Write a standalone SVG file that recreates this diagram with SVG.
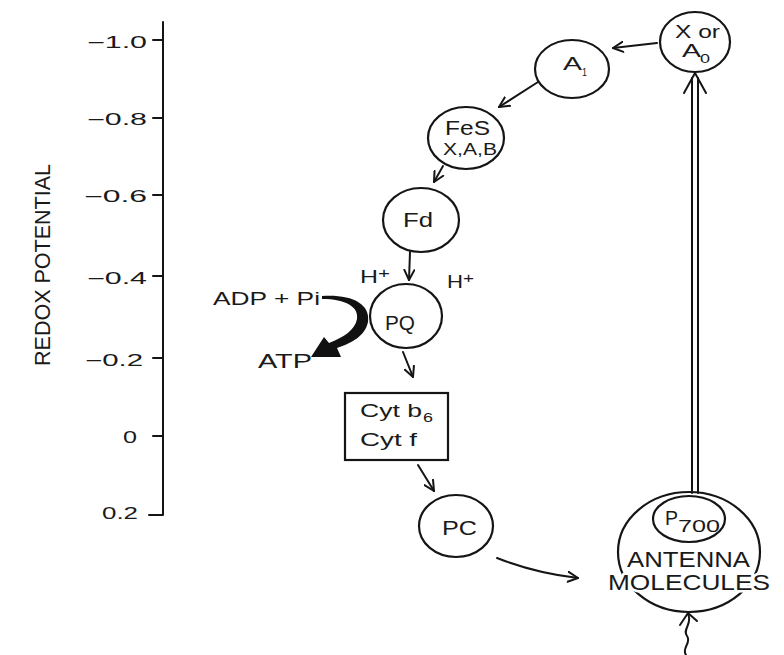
<svg xmlns="http://www.w3.org/2000/svg" width="784" height="655" viewBox="0 0 784 655">
<style>
  .ln{fill:none;stroke:#151515;stroke-width:2;stroke-linecap:round;stroke-linejoin:round}
  .nd{fill:none;stroke:#151515;stroke-width:2.2}
  text{font-family:"Liberation Sans",Arial,sans-serif;fill:#1a1a1a}
  .t{font-size:16px}
  .n{font-size:20px}
  .halo{stroke:#fff;stroke-width:5;paint-order:stroke;stroke-linejoin:round}
</style>
<defs>
  <marker id="ah" viewBox="0 0 12 12" refX="11" refY="6" markerWidth="12" markerHeight="12" markerUnits="userSpaceOnUse" orient="auto">
    <path d="M1,1 L11,6 L1,11" fill="none" stroke="#151515" stroke-width="2" stroke-linecap="round" stroke-linejoin="round"/>
  </marker>
</defs>
<rect width="784" height="655" fill="#fff"/>

<g id="axis">
  <path class="ln" d="M163,22 L163,515 L149,515"/>
  <path class="ln" d="M153,40 H163 M153,118 H163 M153,195 H163 M153,276 H163 M153,358 H163 M153,436 H163"/>
  <text class="t" x="87" y="48" textLength="60" lengthAdjust="spacingAndGlyphs">−1.0</text>
  <text class="t" x="87" y="125" textLength="60" lengthAdjust="spacingAndGlyphs">−0.8</text>
  <text class="t" x="84" y="202" textLength="63" lengthAdjust="spacingAndGlyphs">−0.6</text>
  <text class="t" x="87" y="284" textLength="60" lengthAdjust="spacingAndGlyphs">−0.4</text>
  <text class="t" x="85" y="366" textLength="58" lengthAdjust="spacingAndGlyphs">−0.2</text>
  <text class="t" x="123" y="443" textLength="14" lengthAdjust="spacingAndGlyphs">0</text>
  <text class="t" x="102" y="519" textLength="36" lengthAdjust="spacingAndGlyphs">0.2</text>
  <text transform="translate(50,366) rotate(-90)" x="0" y="0" font-size="22" textLength="202" lengthAdjust="spacingAndGlyphs">REDOX POTENTIAL</text>
</g>

<g id="nodeX">
  <ellipse class="nd" cx="695" cy="42" rx="35" ry="30"/>
  <text x="675" y="38" font-size="18" textLength="45" lengthAdjust="spacingAndGlyphs">X or</text>
  <text x="682" y="57" font-size="19" textLength="19" lengthAdjust="spacingAndGlyphs">A</text>
  <text x="700" y="63" font-size="13" textLength="10" lengthAdjust="spacingAndGlyphs">0</text>
</g>

<g id="nodeA1">
  <ellipse class="nd" cx="572" cy="69" rx="37" ry="29"/>
  <text x="563" y="70" font-size="18" textLength="19" lengthAdjust="spacingAndGlyphs">A</text>
  <text x="582" y="76" font-size="11" textLength="5" lengthAdjust="spacingAndGlyphs">1</text>
</g>

<g id="nodeFeS">
  <ellipse class="nd" cx="466" cy="138" rx="38" ry="31"/>
  <text class="n" x="445" y="135" textLength="45" lengthAdjust="spacingAndGlyphs">FeS</text>
  <text x="443" y="155" font-size="16" textLength="54" lengthAdjust="spacingAndGlyphs">X,A,B</text>
</g>

<g id="nodeFd">
  <ellipse class="nd" cx="421" cy="220" rx="38" ry="32"/>
  <text class="n" x="403" y="227" textLength="30" lengthAdjust="spacingAndGlyphs">Fd</text>
</g>

<g id="labelsH">
  <text x="360" y="283" font-size="18" textLength="18" lengthAdjust="spacingAndGlyphs">H</text>
  <text x="378" y="278" font-size="15" textLength="12" lengthAdjust="spacingAndGlyphs">+</text>
  <text x="447" y="288" font-size="18" textLength="16" lengthAdjust="spacingAndGlyphs">H</text>
  <text x="463" y="283" font-size="15" textLength="11" lengthAdjust="spacingAndGlyphs">+</text>
</g>

<g id="nodePQ">
  <ellipse class="nd" cx="406" cy="316" rx="36" ry="32"/>
  <text class="n" x="385" y="330" textLength="30" lengthAdjust="spacingAndGlyphs">PQ</text>
</g>

<g id="atp">
  <text x="213" y="305" font-size="18" textLength="107" lengthAdjust="spacingAndGlyphs">ADP + Pi</text>
  <text class="n" x="258" y="368" textLength="54" lengthAdjust="spacingAndGlyphs">ATP</text>
  <path fill="#111" d="M322,296 C350,294 371,303 368,322 C365,336 352,343 337,348 L341,357 L311,357 L324,337 L329,343 C344,337 355,330 357,319 C359,307 346,299 322,299 Z"/>
</g>

<g id="nodeCyt">
  <rect class="nd" x="345" y="393" width="103" height="67"/>
  <text x="360" y="417" font-size="19" textLength="62" lengthAdjust="spacingAndGlyphs">Cyt b</text>
  <text x="423" y="422" font-size="13" textLength="10" lengthAdjust="spacingAndGlyphs">6</text>
  <text x="360" y="446" font-size="19" textLength="57" lengthAdjust="spacingAndGlyphs">Cyt f</text>
</g>

<g id="nodePC">
  <ellipse class="nd" cx="456" cy="526" rx="37" ry="31"/>
  <text x="442" y="535" font-size="21" textLength="35" lengthAdjust="spacingAndGlyphs">PC</text>
</g>

<g id="nodeAntenna">
  <ellipse class="nd" cx="689" cy="552" rx="71" ry="60"/>
  <ellipse class="nd" cx="689" cy="519" rx="36" ry="23"/>
  <text x="665" y="525" font-size="20" textLength="13" lengthAdjust="spacingAndGlyphs">P</text>
  <text x="678" y="532" font-size="16" textLength="42" lengthAdjust="spacingAndGlyphs">700</text>
  <text class="halo" x="627" y="567" font-size="22" textLength="123" lengthAdjust="spacingAndGlyphs">ANTENNA</text>
  <text class="halo" x="608" y="590" font-size="22" textLength="162" lengthAdjust="spacingAndGlyphs">MOLECULES</text>
</g>

<g id="connectors">
  <path class="ln" marker-end="url(#ah)" d="M657,43 L613,48"/>
  <path class="ln" marker-end="url(#ah)" d="M538,82 L499,107"/>
  <path class="ln" marker-end="url(#ah)" d="M443,166 L434,182"/>
  <path class="ln" marker-end="url(#ah)" d="M410,252 L409,280"/>
  <path class="ln" marker-end="url(#ah)" d="M403,352 L413,377"/>
  <path class="ln" marker-end="url(#ah)" d="M418,465 L434,491"/>
  <path class="ln" marker-end="url(#ah)" d="M497,558 Q535,573 578,578"/>
  <path class="ln" stroke-width="2.4" d="M686,655 C681,648 692,643 687,636 C682,629 693,624 688,614"/>
  <path class="ln" stroke-width="2.4" d="M680,625 L688,613 L697,621"/>
  <path class="ln" stroke-width="1.8" d="M692,493 L692,78 M698,493 L698,78"/>
  <path class="ln" stroke-width="2.6" d="M684,93 L695,73 L706,93"/>
</g>
</svg>
